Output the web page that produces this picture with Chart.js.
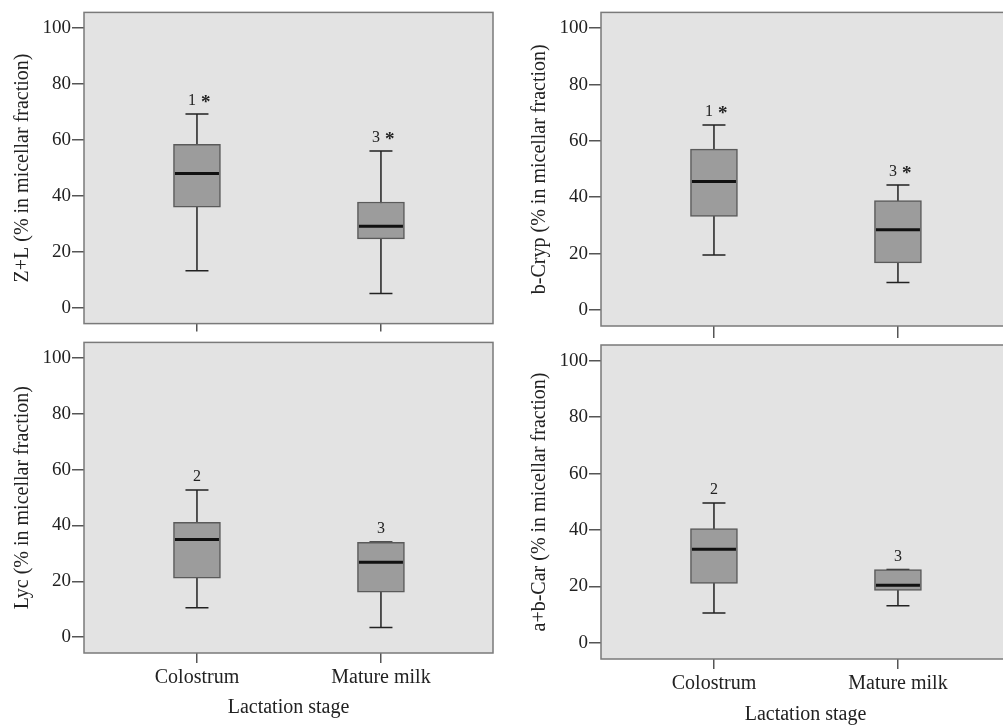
<!DOCTYPE html>
<html>
<head>
<meta charset="utf-8">
<script src="https://cdn.jsdelivr.net/npm/chart.js@4.4.0/dist/chart.umd.min.js"></script>
<style>
  html, body { margin: 0; padding: 0; background: #fff; }
  body { width: 1003px; height: 726px; overflow: hidden; position: relative; }
  .panel { position: absolute; }
</style>
</head>
<body>
<div class="panel" style="left:0;top:0;width:500px;height:336px"><canvas id="zl"></canvas></div>
<div class="panel" style="left:500px;top:0;width:520px;height:340px"><canvas id="cryp"></canvas></div>
<div class="panel" style="left:0;top:330px;width:500px;height:396px"><canvas id="lyc"></canvas></div>
<div class="panel" style="left:500px;top:330px;width:520px;height:397px"><canvas id="car"></canvas></div>
<script>
// categories and tick labels
const stages = ['Colostrum', 'Mature milk'];
const yTicks = [0, 20, 40, 60, 80, 100];

// box stats per stage: [whisker low, Q1, median, Q3, whisker high]
const zlColostrum = [13.2, 35.9, 48.0, 58.4, 69.3];
const zlMature = [5.1, 24.6, 29.1, 37.8, 56.0];
const zlNotes = ['1 *', '3 *'];

const crypColostrum = [19.5, 33.2, 45.6, 57.1, 65.6];
const crypMature = [9.7, 16.7, 28.5, 38.8, 44.3];
const crypNotes = ['1 *', '3 *'];

const lycColostrum = [10.5, 21.1, 35.0, 41.1, 52.7];
const lycMature = [3.4, 16.1, 26.8, 34.0, 34.1];
const lycNotes = ['2', '3'];

const carColostrum = [10.6, 21.1, 33.2, 40.5, 49.6];
const carMature = [13.2, 18.6, 20.4, 26.0, 26.0];
const carNotes = ['2', '3'];

const serif = '"Liberation Serif", "DejaVu Serif", serif';

function makePanel(id, stats, notes, yTitle, o) {
  // background, whiskers, medians and the frame
  const boxPlot = {
    id: 'boxPlot',
    beforeDraw(chart) {
      const a = chart.chartArea, ctx = chart.ctx;
      ctx.save();
      ctx.fillStyle = '#e3e3e3';
      ctx.fillRect(a.left, a.top, a.right - a.left, a.bottom - a.top);
      ctx.restore();
    },
    beforeDatasetsDraw(chart) {
      const ctx = chart.ctx, xs = chart.scales.x, ys = chart.scales.y;
      ctx.save();
      ctx.strokeStyle = '#222';
      ctx.lineWidth = 1.5;
      stats.forEach((s, i) => {
        const x = xs.getPixelForValue(i + 1);
        const lo = ys.getPixelForValue(s[0]);
        const hi = ys.getPixelForValue(s[4]);
        ctx.beginPath();
        ctx.moveTo(x, lo); ctx.lineTo(x, hi);
        ctx.moveTo(x - 11.5, lo); ctx.lineTo(x + 11.5, lo);
        ctx.moveTo(x - 11.5, hi); ctx.lineTo(x + 11.5, hi);
        ctx.stroke();
      });
      ctx.restore();
    },
    afterDatasetsDraw(chart) {
      const ctx = chart.ctx, xs = chart.scales.x, ys = chart.scales.y;
      ctx.save();
      stats.forEach((s, i) => {
        const x = xs.getPixelForValue(i + 1);
        const m = ys.getPixelForValue(s[2]);
        ctx.strokeStyle = '#111';
        ctx.lineWidth = 3;
        ctx.beginPath();
        ctx.moveTo(x - 22, m); ctx.lineTo(x + 22, m);
        ctx.stroke();
        // "1 *" style notes: number then a bolder asterisk
        const y = ys.getPixelForValue(s[4]) - 13;
        const parts = notes[i].split(' ');
        ctx.fillStyle = '#222';
        ctx.textBaseline = 'middle';
        ctx.font = '16px ' + serif;
        if (parts.length > 1) {
          ctx.textAlign = 'right';
          ctx.fillText(parts[0], x - 1, y);
          ctx.textAlign = 'left';
          ctx.font = 'bold 19px ' + serif;
          ctx.fillText(parts[1], x + 4, y + 2);
        } else {
          ctx.textAlign = 'center';
          ctx.fillText(parts[0], x, y);
        }
      });
      ctx.restore();
    },
    afterDraw(chart) {
      const a = chart.chartArea, ctx = chart.ctx;
      ctx.save();
      ctx.strokeStyle = '#7a7a7a';
      ctx.lineWidth = 1.5;
      ctx.strokeRect(a.left, a.top, a.right - a.left, a.bottom - a.top);
      ctx.restore();
    }
  };

  new Chart(document.getElementById(id), {
    type: 'bar',
    data: {
      datasets: [{
        data: stats.map((s, i) => ({ x: i + 1, y: [s[1], s[3]] })),
        backgroundColor: '#9c9c9c',
        borderColor: '#5a5a5a',
        borderWidth: 1.5,
        borderSkipped: false,
        barThickness: 47
      }]
    },
    options: {
      responsive: true,
      maintainAspectRatio: false,
      animation: false,
      layout: { padding: { top: o.padTop, right: o.padRight, bottom: o.padBottom, left: 0 } },
      plugins: { legend: { display: false }, tooltip: { enabled: false } },
      scales: {
        x: {
          type: 'linear',
          min: 0.386,
          max: 2.609,
          offset: false,
          afterBuildTicks: s => { s.ticks = stages.map((_, i) => ({ value: i + 1 })); },
          afterFit: s => { s.height = o.xHeight; },
          ticks: {
            display: o.showX,
            callback: v => stages[v - 1],
            font: { family: serif, size: 20 },
            color: '#222',
            padding: 3,
            autoSkip: false,
            maxRotation: 0
          },
          grid: { offset: false, drawOnChartArea: false, drawTicks: true, tickLength: o.xTick, color: '#555', lineWidth: 1.5 },
          border: { display: false },
          title: {
            display: o.showX,
            text: 'Lactation stage',
            font: { family: serif, size: 20 },
            color: '#222',
            padding: { top: 0, bottom: 0 }
          }
        },
        y: {
          min: -5.7,
          max: 105.6,
          afterBuildTicks: s => { s.ticks = yTicks.map(v => ({ value: v })); },
          afterFit: s => { s.width = o.yWidth; },
          ticks: { font: { family: serif, size: 19 }, color: '#222', padding: 1 },
          grid: { drawOnChartArea: false, drawTicks: true, tickLength: 12, color: '#555', lineWidth: 1.5 },
          border: { display: false },
          title: {
            display: true,
            text: yTitle,
            font: { family: serif, size: 20 },
            color: '#222',
            padding: { top: o.titlePad, bottom: 0 }
          }
        }
      }
    },
    plugins: [boxPlot]
  });
}

makePanel('zl', [zlColostrum, zlMature], zlNotes, 'Z+L (% in micellar fraction)',
  { padTop: 12, padRight: 7, padBottom: 2, yWidth: 84, xHeight: 8, xTick: 8, titlePad: 11, showX: false });
makePanel('cryp', [crypColostrum, crypMature], crypNotes, 'b-Cryp (% in micellar fraction)',
  { padTop: 12, padRight: 10, padBottom: 2, yWidth: 101, xHeight: 12, xTick: 12, titlePad: 28, showX: false });
makePanel('lyc', [lycColostrum, lycMature], lycNotes, 'Lyc (% in micellar fraction)',
  { padTop: 7, padRight: 7, padBottom: 6, yWidth: 84, xHeight: 67, xTick: 10, titlePad: 11, showX: true });
makePanel('car', [carColostrum, carMature], carNotes, 'a+b-Car (% in micellar fraction)',
  { padTop: 15, padRight: 10, padBottom: 0, yWidth: 101, xHeight: 68, xTick: 10, titlePad: 28, showX: true });
</script>
</body>
</html>
